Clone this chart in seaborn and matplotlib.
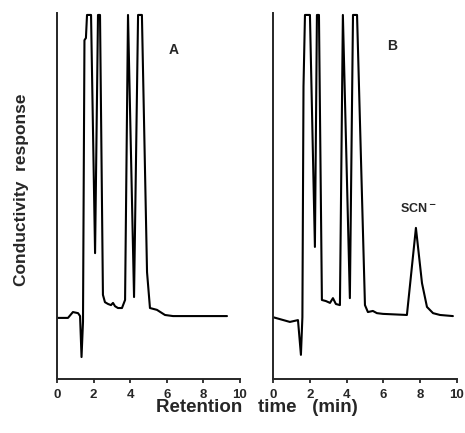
import pandas as pd
import seaborn as sns
import matplotlib.pyplot as plt

# chromatogram traces (time in min, response in % of full scale)
time_a = [0, 0.60, 0.87, 1.15, 1.26, 1.34, 1.42, 1.50, 1.58, 1.64, 1.86, 2.08, 2.24, 2.35,
          2.51, 2.62, 2.79, 2.95, 3.06, 3.17, 3.33, 3.55, 3.72, 3.88, 4.21, 4.43, 4.64,
          4.92, 5.08, 5.46, 5.90, 6.34, 9.29]
resp_a = [16.7, 16.7, 18.3, 18.0, 17.2, 6.0, 15.6, 92.6, 93.2, 99.5, 99.5, 34.4, 99.5, 99.5,
          23.0, 21.0, 20.5, 20.2, 20.8, 19.9, 19.4, 19.4, 21.6, 99.5, 22.4, 99.5, 99.5,
          29.2, 19.4, 18.9, 17.5, 17.2, 17.2]

time_b = [0, 0.92, 1.36, 1.52, 1.60, 1.66, 1.74, 2.01, 2.28, 2.39, 2.50, 2.66, 2.88, 3.10,
          3.26, 3.42, 3.64, 3.80, 4.18, 4.35, 4.57, 5.00, 5.16, 5.43, 5.65, 5.98, 7.28,
          7.77, 8.10, 8.37, 8.70, 9.08, 9.78]
resp_b = [16.9, 15.6, 16.1, 6.6, 16.9, 80.0, 99.5, 99.5, 36.1, 99.5, 99.5, 21.6, 21.3, 20.8,
          22.1, 20.5, 20.2, 99.5, 22.1, 99.5, 99.5, 20.2, 18.3, 18.6, 18.0, 17.8, 17.5,
          41.3, 26.2, 19.7, 18.0, 17.5, 17.2]

panel_labels = ['A', 'B']
x_ticks = [0, 2, 4, 6, 8, 10]

sns.set_style('ticks')
plt.rcParams['font.family'] = ['Liberation Sans', 'DejaVu Sans']

fig = plt.figure(figsize=(4.65, 4.33), dpi=100)
ax_a = fig.add_axes([0.1226, 0.1247, 0.3935, 0.845])
ax_b = fig.add_axes([0.587, 0.1247, 0.3957, 0.845])

traces = [(ax_a, time_a, resp_a), (ax_b, time_b, resp_b)]
for (ax, t, r), lab in zip(traces, panel_labels):
    df = pd.DataFrame({'time': t, 'response': r})
    sns.lineplot(data=df, x='time', y='response', ax=ax, sort=False,
                 estimator=None, color='black', linewidth=1.5)
    ax.set_xlim(0, 10)
    ax.set_ylim(0, 100)
    ax.set_xticks(x_ticks)
    ax.set_xticklabels([str(v) for v in x_ticks], fontweight='bold', fontsize=9.5)
    ax.set_yticks([])
    ax.set_xlabel('')
    ax.set_ylabel('')
    ax.tick_params(axis='x', length=3, width=1.3, pad=4)
    for side in ['left', 'bottom']:
        ax.spines[side].set_linewidth(1.4)
    sns.despine(ax=ax)

ax_a.text(6.4, 90, 'A', fontweight='bold', fontsize=10, ha='center', va='center')
ax_b.text(6.5, 91, 'B', fontweight='bold', fontsize=10, ha='center', va='center')
ax_b.text(7.9, 46.5, r'SCN$^{\bf -}$', fontweight='bold', fontsize=9, ha='center', va='center')

fig.text(0.552, 0.058, 'Retention   time   (min)', fontweight='bold', fontsize=13.5,
         ha='center', va='center')
fig.text(0.047, 0.562, 'Conductivity  response', fontweight='bold', fontsize=12.5,
         ha='center', va='center', rotation=90)

fig.savefig('out.png', dpi=100)
